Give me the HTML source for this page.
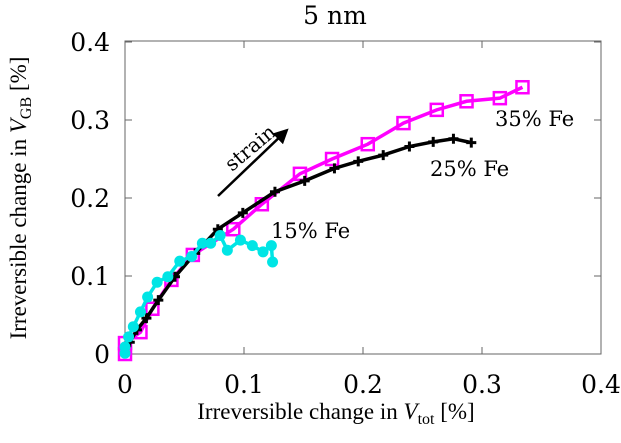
<!DOCTYPE html>
<html><head><meta charset="utf-8"><style>
body{margin:0;background:#fff}
svg text{font-family:"DejaVu Serif","Liberation Serif",serif;fill:#000}
svg text.lib{font-family:"Liberation Serif",serif}
</style></head><body>
<svg id="chart" width="621" height="438" xmlns="http://www.w3.org/2000/svg"></svg>
<script>
const xTicks=[0,0.1,0.2,0.3,0.4];
const yTicks=[0,0.1,0.2,0.3,0.4];
const tickLabels=["0","0.1","0.2","0.3","0.4"];
const fe35X=[0,0,0.013,0.023,0.039,0.057,0.091,0.115,0.147,0.174,0.204,0.234,0.262,0.287,0.315,0.334];
const fe35Y=[0,0.014,0.028,0.058,0.095,0.127,0.160,0.192,0.231,0.250,0.269,0.296,0.313,0.324,0.328,0.342];
const fe25X=[0,0.004,0.010,0.018,0.028,0.042,0.059,0.078,0.099,0.126,0.151,0.176,0.196,0.217,0.239,0.259,0.276,0.291];
const fe25Y=[0.001,0.015,0.031,0.046,0.069,0.099,0.129,0.160,0.181,0.208,0.222,0.238,0.247,0.255,0.266,0.272,0.276,0.271];
const fe15X=[0,0,0.003,0.007,0.013,0.019,0.027,0.036,0.046,0.056,0.065,0.072,0.080,0.086,0.097,0.107,0.116,0.123,0.124];
const fe15Y=[0.001,0.009,0.022,0.035,0.054,0.073,0.092,0.099,0.119,0.125,0.142,0.142,0.152,0.133,0.146,0.139,0.131,0.139,0.118];
const X=v=>125+v*1190, Y=v=>354-v*780;
const svg=document.getElementById('chart');const NS='http://www.w3.org/2000/svg';
function mk(t,a,p){const e=document.createElementNS(NS,t);for(const k in a)e.setAttribute(k,a[k]);(p||svg).appendChild(e);return e;}
let frame=mk('rect',{x:125,y:41,width:476,height:313,fill:'none',stroke:'#666','stroke-width':1});


xTicks.forEach((t,i)=>{
 mk('line',{x1:X(t),x2:X(t),y1:354,y2:347,stroke:'#666'});mk('line',{x1:X(t),x2:X(t),y1:41,y2:48,stroke:'#666'});
 const l=mk('text',{x:X(t),y:393,'text-anchor':'middle','font-size':25});l.textContent=tickLabels[i];
 
 
});
yTicks.forEach((t,i)=>{
 mk('line',{x1:125,x2:132,y1:Y(t),y2:Y(t),stroke:'#666'});mk('line',{x1:601,x2:594,y1:Y(t),y2:Y(t),stroke:'#666'});
 const l=mk('text',{x:110,y:Y(t)+9,'text-anchor':'end','font-size':25});l.textContent=tickLabels[i];
 
 
});
function series(xs,ys,color,name,marker){
 const g=mk('g',{});
 
 
 mk('polyline',{points:xs.map((x,i)=>X(x)+','+Y(ys[i])).join(' '),fill:'none',stroke:color,'stroke-width':3.5},g);
 xs.forEach((x,i)=>{const cx=X(x),cy=Y(ys[i]);
  if(marker==='sq')mk('rect',{x:cx-6,y:cy-6,width:12,height:12,fill:'none',stroke:color,'stroke-width':2.5},g);
  else if(marker==='plus'){mk('path',{d:`M${cx-5} ${cy}H${cx+5}M${cx} ${cy-5}V${cy+5}`,stroke:color,'stroke-width':3},g);}
  else mk('circle',{cx,cy,r:5.5,fill:color},g);
 });
}
series(fe35X,fe35Y,'#ff00ff','series-35-fe','sq');
series(fe25X,fe25Y,'#000','series-25-fe','plus');
series(fe15X,fe15Y,'#00e5e5','series-15-fe','circ');
</script>
<svg width="621" height="438" style="position:absolute;left:0;top:0" xmlns="http://www.w3.org/2000/svg">
<defs><marker id="ah" markerWidth="6" markerHeight="6" refX="4" refY="3" orient="auto"><path d="M0,0 L6,3 L0,6 Z" fill="#000"/></marker></defs>
<text x="335" y="24" text-anchor="middle" font-size="25">5 nm</text>
<line x1="218" y1="196" x2="285" y2="132" stroke="#000" stroke-width="2.5" marker-end="url(#ah)"/>
<text x="0" y="0" font-size="20" transform="translate(232,172) rotate(-40)">strain</text>
<text x="495" y="126" font-size="21">35% Fe</text>
<text x="430" y="176" font-size="21">25% Fe</text>
<text x="271" y="238" font-size="21">15% Fe</text>
<text class="lib" x="336" y="419" text-anchor="middle" font-size="23">Irreversible change in <tspan font-style="italic">V</tspan><tspan font-size="16" dy="5">tot</tspan><tspan dy="-5"> [%]</tspan></text>
<text class="lib" transform="translate(26,198) rotate(-90)" text-anchor="middle" font-size="23">Irreversible change in <tspan font-style="italic">V</tspan><tspan font-size="16" dy="5">GB</tspan><tspan dy="-5"> [%]</tspan></text>
</svg>
</body></html>
